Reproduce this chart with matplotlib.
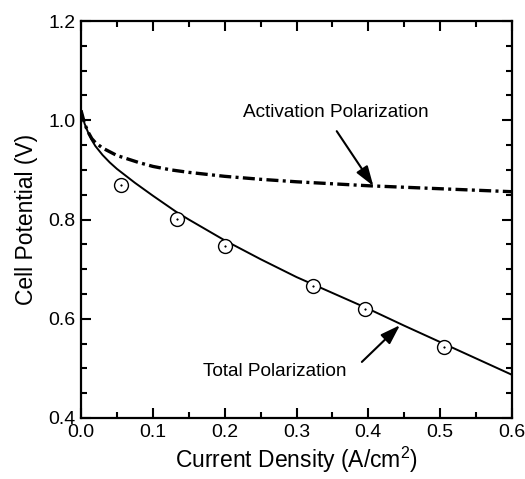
import matplotlib
matplotlib.use("Agg")
import matplotlib.pyplot as plt
from matplotlib.ticker import MultipleLocator

plt.rcParams['font.family'] = ['Liberation Sans', 'DejaVu Sans']
plt.rcParams['mathtext.fontset'] = 'custom'
plt.rcParams['mathtext.rm'] = 'Liberation Sans'

# Data
meas_x = [0.055, 0.133, 0.200, 0.323, 0.395, 0.506]
meas_y = [0.870, 0.801, 0.746, 0.667, 0.620, 0.543]

total_x = [0.0, 0.005, 0.01, 0.015, 0.02, 0.03, 0.04, 0.05, 0.075, 0.10, 0.133, 0.15,
           0.20, 0.25, 0.30, 0.35, 0.40, 0.45, 0.50, 0.55, 0.60]
total_y = [1.02, 0.993, 0.975, 0.960, 0.948, 0.930, 0.915, 0.902, 0.874, 0.848, 0.815,
           0.800, 0.758, 0.720, 0.684, 0.652, 0.620, 0.586, 0.553, 0.520, 0.487]

act_x = [0.0, 0.005, 0.01, 0.015, 0.02, 0.03, 0.05, 0.08, 0.10, 0.125, 0.15, 0.20, 0.25,
         0.30, 0.35, 0.40, 0.45, 0.50, 0.55, 0.60]
act_y = [1.02, 0.993, 0.976, 0.963, 0.955, 0.944, 0.929, 0.915, 0.907, 0.900, 0.895,
         0.887, 0.881, 0.876, 0.872, 0.868, 0.865, 0.862, 0.859, 0.856]

fig = plt.figure(figsize=(5.25, 4.79), dpi=100)
ax = fig.add_axes([81/525, 1-418/479, (512-81)/525, (418-21)/479])

ax.plot(total_x, total_y, color='black', lw=1.4)
ax.plot(act_x, act_y, color='black', lw=2.4, linestyle=(0, (3.6, 1.3, 0.9, 1.3)),
        dash_capstyle='butt')
ax.plot(meas_x, meas_y, linestyle='none', marker='o', ms=10, mfc='white', mec='black', mew=1.0)
ax.plot(meas_x, meas_y, linestyle='none', marker='o', ms=1.2, mfc='black', mec='black', mew=0.3)

ax.set_xlim(0.0, 0.6)
ax.set_ylim(0.4, 1.2)
ax.xaxis.set_major_locator(MultipleLocator(0.1))
ax.xaxis.set_minor_locator(MultipleLocator(0.05))
ax.yaxis.set_major_locator(MultipleLocator(0.2))
ax.yaxis.set_minor_locator(MultipleLocator(0.05))
ax.set_xticklabels([f"{v:.1f}" for v in ax.get_xticks()])
ax.set_yticklabels([f"{v:.1f}" for v in ax.get_yticks()])
ax.tick_params(which='both', direction='in', top=True, right=True, width=1.5, labelsize=14)
ax.tick_params(which='major', length=7, pad=4)
ax.tick_params(which='minor', length=4)
for s in ax.spines.values():
    s.set_linewidth(1.6)

ax.set_xlabel('Current Density (A/cm$^2$)', fontsize=16.5, labelpad=3)
ax.set_ylabel('Cell Potential (V)', fontsize=16.5, labelpad=7)

arrow_props = dict(arrowstyle='-|>,head_length=1.2,head_width=0.4', color='black', lw=1.5,
                   shrinkA=0, shrinkB=0)
ax.text(0.2255, 1.015, 'Activation Polarization', fontsize=13.7, va='center', ha='left')
ax.annotate('', xy=(0.407, 0.8675), xytext=(0.356, 0.978), arrowprops=arrow_props)
ax.text(0.170, 0.493, 'Total Polarization', fontsize=13.7, va='center', ha='left')
ax.annotate('', xy=(0.444, 0.587), xytext=(0.391, 0.513), arrowprops=arrow_props)

fig.savefig('out.png', dpi=100)
